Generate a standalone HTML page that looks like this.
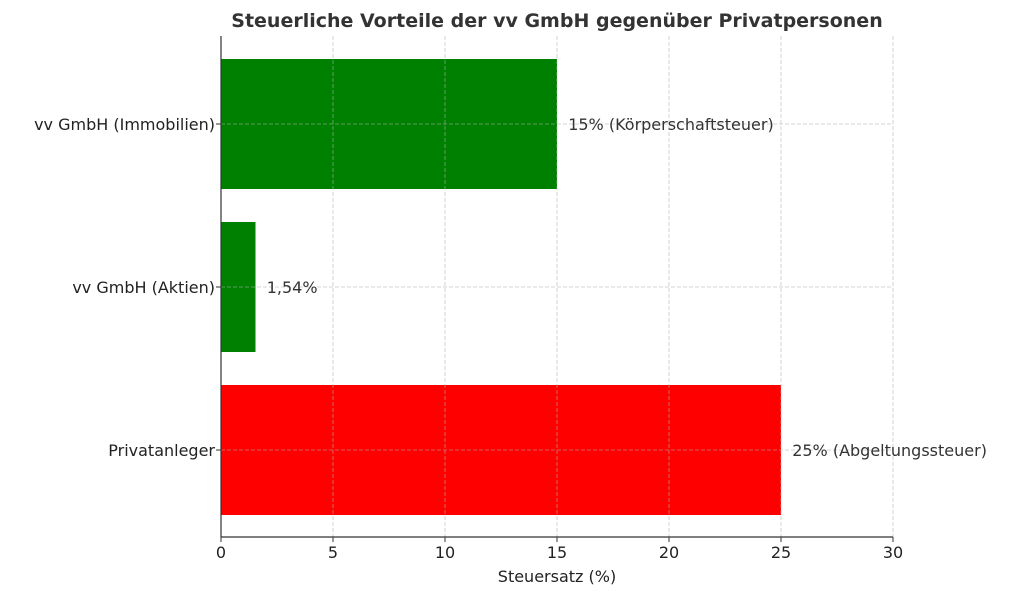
<!DOCTYPE html>
<html><head><meta charset="utf-8"><style>
body{margin:0;background:#fff}
svg text{font-family:"DejaVu Sans","Liberation Sans",sans-serif}
</style></head><body>
<svg width="1024" height="596" viewBox="0 0 1024 596" id="chart">
<text x="557" y="27" text-anchor="middle" font-size="19" font-weight="bold" fill="#333">Steuerliche Vorteile der vv GmbH gegenüber Privatpersonen</text>
</svg>
<script>
const categories=["Privatanleger","vv GmbH (Aktien)","vv GmbH (Immobilien)"];
const values=[25,1.54,15];
const labels=["25% (Abgeltungssteuer)","1,54%","15% (Körperschaftsteuer)"];
const colors=["#ff0000","#008000","#008000"];
const ticks=[0,5,10,15,20,25,30];
const svg=document.getElementById('chart');
const NS="http://www.w3.org/2000/svg";
const L=221,R=893,T=36,B=537;
const x=v=>L+(v-0)/(30-0)*(R-L);
const y=i=>B-22-65-i*163; // center
function mk(t,a,txt){const e=document.createElementNS(NS,t);for(const k in a)e.setAttribute(k,a[k]);if(txt!==undefined)e.textContent=txt;svg.appendChild(e);return e;}
categories.forEach((c,i)=>{
 const r=mk('rect',{x:L,y:y(i)-65,width:x(values[i])-L,height:130,fill:colors[i]});
 
 
});
ticks.forEach(t=>{
 const g=mk('line',{x1:x(t),x2:x(t),y1:T,y2:B,stroke:'#b0b0b0','stroke-width':0.8,'stroke-dasharray':'4,2','stroke-opacity':0.7});
 
 
 const tk=mk('line',{x1:x(t),x2:x(t),y1:B,y2:B+5,stroke:'#333','stroke-width':1});
 
 
 const tl=mk('text',{x:x(t),y:B+21,'text-anchor':'middle','font-size':16,fill:'#222'},t);
 
 
});
categories.forEach((c,i)=>{
 const g=mk('line',{x1:L,x2:R,y1:y(i),y2:y(i),stroke:'#b0b0b0','stroke-width':0.8,'stroke-dasharray':'4,2','stroke-opacity':0.7});
 
 
 const tk=mk('line',{x1:L-5,x2:L,y1:y(i),y2:y(i),stroke:'#333','stroke-width':1});
 
 
 const tl=mk('text',{x:L-6,y:y(i)+6,'text-anchor':'end','font-size':16,fill:'#222'},c);
 
 
 const vl=mk('text',{x:x(values[i]+0.5),y:y(i)+6,'font-size':16,fill:'#333'},labels[i]);
 
 
});
const ax=mk('line',{x1:L,x2:L,y1:T,y2:B,stroke:'#333','stroke-width':1.2});


const bx=mk('line',{x1:L,x2:R,y1:B,y2:B,stroke:'#333','stroke-width':1.2});


const xt=mk('text',{x:557,y:582,'text-anchor':'middle','font-size':16,fill:'#222'},'Steuersatz (%)');


</script>
</body></html>
